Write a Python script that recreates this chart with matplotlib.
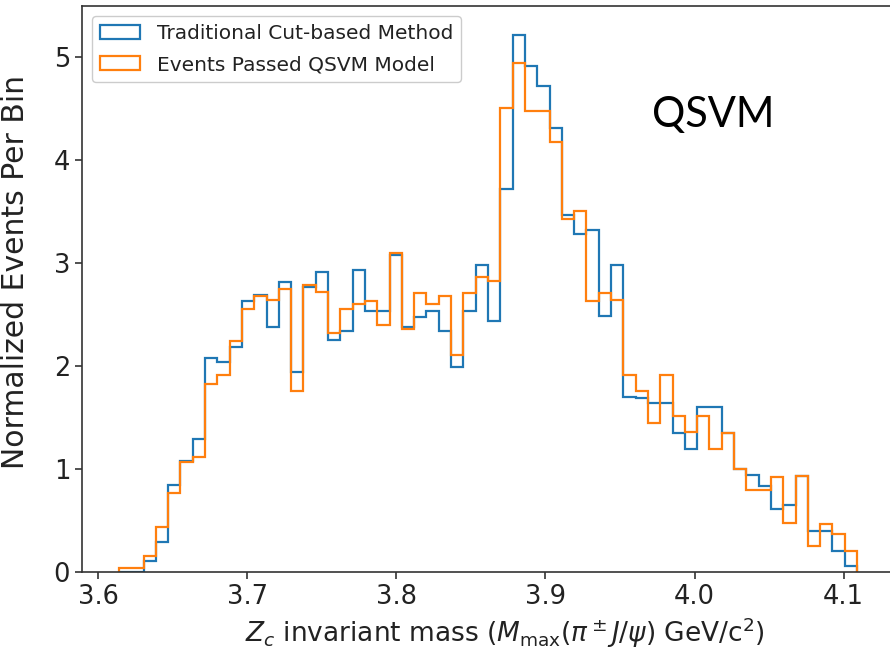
import numpy as np
import matplotlib
matplotlib.use("Agg")
import matplotlib.pyplot as plt

# Histogram binning (60 equal bins over the mass window)
bin_lo, bin_hi, n_bins = 3.614, 4.109, 60

# Normalized events per bin
cut_based = [
    0.00, 0.00, 0.11, 0.29, 0.85, 1.08, 1.29, 2.08, 2.04, 2.19,
    2.63, 2.69, 2.38, 2.82, 1.94, 2.77, 2.92, 2.25, 2.34, 2.93,
    2.54, 2.54, 3.08, 2.38, 2.48, 2.54, 2.34, 1.99, 2.54, 2.98,
    2.44, 3.72, 5.22, 4.92, 4.72, 4.31, 3.47, 3.28, 3.32, 2.49,
    2.98, 1.70, 1.69, 1.64, 1.64, 1.35, 1.20, 1.60, 1.60, 1.35,
    1.00, 0.94, 0.84, 0.61, 0.65, 0.93, 0.40, 0.40, 0.20, 0.06,
]
qsvm_passed = [
    0.04, 0.04, 0.16, 0.44, 0.77, 1.07, 1.12, 1.83, 1.91, 2.24,
    2.56, 2.68, 2.64, 2.75, 1.76, 2.79, 2.72, 2.32, 2.56, 2.60,
    2.63, 2.40, 3.10, 2.36, 2.71, 2.60, 2.68, 2.11, 2.71, 2.87,
    2.83, 4.51, 4.95, 4.48, 4.48, 4.18, 3.43, 3.51, 2.63, 2.71,
    2.64, 1.91, 1.76, 1.45, 1.91, 1.52, 1.36, 1.52, 1.20, 1.35,
    1.00, 0.80, 0.80, 0.92, 0.48, 0.93, 0.25, 0.47, 0.37, 0.20,
]
series_labels = ["Traditional Cut-based Method", "Events Passed QSVM Model"]
x_ticks = [3.6, 3.7, 3.8, 3.9, 4.0, 4.1]
y_ticks = [0, 1, 2, 3, 4, 5]

edges = np.linspace(bin_lo, bin_hi, n_bins + 1)
centers = 0.5 * (edges[:-1] + edges[1:])

fig = plt.figure(figsize=(8.9, 6.51), dpi=100)
ax = fig.add_axes([82 / 890, 1 - 572 / 651, (894 - 82) / 890, (572 - 6) / 651])

ax.hist(centers, bins=edges, weights=cut_based, histtype="step",
        color="#1f77b4", lw=1.6, label=series_labels[0])
ax.hist(centers, bins=edges, weights=qsvm_passed, histtype="step",
        color="#ff7f0e", lw=1.6, label=series_labels[1])

span = bin_hi - bin_lo
ax.set_xlim(bin_lo - 0.05 * span, bin_hi + 0.05 * span)
ax.set_ylim(0, 5.5)
ax.set_xticks(x_ticks)
ax.set_xticklabels([f"{t:.1f}" for t in x_ticks])
ax.set_yticks(y_ticks)

ax.tick_params(labelsize=18.5, length=5, width=1.2, color="#333333",
               labelcolor="#222222")
for s in ax.spines.values():
    s.set_linewidth(1.2)
    s.set_color("#333333")

ax.set_xlabel(r"$Z_c$ invariant mass ($M_{\rm max}(\pi^\pm J/\psi)$ GeV/c$^2$)",
              fontsize=19, color="#222222")
ax.set_ylabel("Normalized Events Per Bin", fontsize=21.5, color="#222222")
ax.xaxis.set_label_coords(0.521, -0.077)
ax.yaxis.set_label_coords(-0.0635, 0.53)

leg = ax.legend(loc="upper left", fontsize=14.5, framealpha=1.0,
                borderaxespad=0.5, labelspacing=0.6)
for t in leg.get_texts():
    t.set_color("#222222")

fig.text(652 / 890, 1 - 127 / 651, "QSVM", fontsize=30, family="Lato",
         ha="left", va="baseline", color="black")

fig.savefig("out.png", dpi=100)
